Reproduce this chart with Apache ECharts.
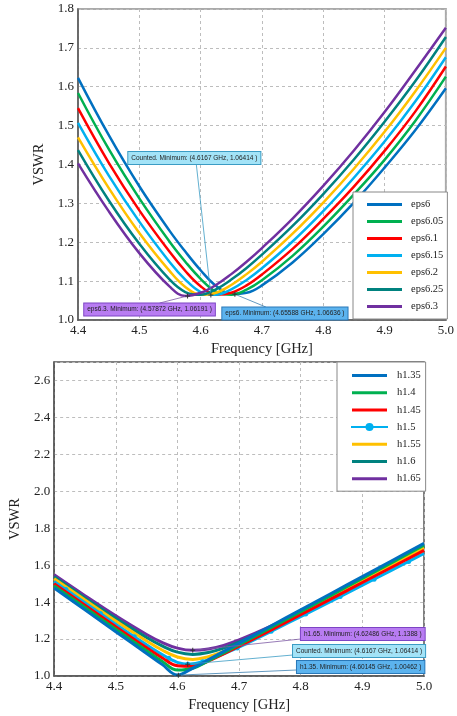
<!DOCTYPE html>
<html>
<head>
<meta charset="utf-8">
<title>VSWR</title>
<script src="https://cdn.jsdelivr.net/npm/echarts@6/dist/echarts.min.js"></script>
<style>
    html, body {margin: 0; padding: 0; background: #fff;}
    #main {width: 457px; height: 716px;}
</style>
</head>
<body>
<div id="main"></div>
<script>
// 上图：eps 扫描
let topFreq = [4.40, 4.45, 4.50, 4.55, 4.575, 4.60, 4.625, 4.65, 4.675, 4.70, 4.75, 4.80, 4.85, 4.90, 4.95, 5.00];
let topNames = ['eps6', 'eps6.05', 'eps6.1', 'eps6.15', 'eps6.2', 'eps6.25', 'eps6.3'];
let eps6 = [1.623, 1.476, 1.344, 1.228, 1.176, 1.128, 1.088, 1.067, 1.070, 1.089, 1.148, 1.221, 1.302, 1.392, 1.488, 1.596];
let eps605 = [1.584, 1.440, 1.313, 1.200, 1.150, 1.106, 1.073, 1.065, 1.078, 1.102, 1.165, 1.240, 1.323, 1.412, 1.512, 1.626];
let eps61 = [1.545, 1.405, 1.282, 1.174, 1.126, 1.087, 1.065, 1.070, 1.089, 1.117, 1.183, 1.260, 1.343, 1.435, 1.536, 1.652];
let eps615 = [1.507, 1.372, 1.253, 1.148, 1.104, 1.072, 1.065, 1.079, 1.103, 1.133, 1.202, 1.280, 1.366, 1.459, 1.562, 1.676];
let eps62 = [1.470, 1.340, 1.224, 1.125, 1.085, 1.065, 1.070, 1.090, 1.118, 1.150, 1.222, 1.302, 1.389, 1.484, 1.588, 1.700];
let eps625 = [1.437, 1.308, 1.196, 1.103, 1.072, 1.065, 1.079, 1.104, 1.134, 1.168, 1.242, 1.324, 1.413, 1.510, 1.614, 1.728];
let eps63 = [1.403, 1.280, 1.172, 1.085, 1.062, 1.070, 1.090, 1.118, 1.150, 1.185, 1.261, 1.345, 1.436, 1.535, 1.642, 1.752];

// 下图：h 扫描
let botFreq = [4.40, 4.45, 4.50, 4.55, 4.575, 4.60, 4.625, 4.65, 4.675, 4.70, 4.75, 4.80, 4.85, 4.90, 4.95, 5.00];
let botNames = ['h1.35', 'h1.4', 'h1.45', 'h1.5', 'h1.55', 'h1.6', 'h1.65'];
let h135 = [1.476, 1.358, 1.240, 1.122, 1.063, 1.006, 1.043, 1.088, 1.133, 1.178, 1.268, 1.358, 1.448, 1.538, 1.628, 1.718];
let h14 = [1.488, 1.371, 1.253, 1.137, 1.080, 1.032, 1.042, 1.082, 1.125, 1.170, 1.259, 1.348, 1.438, 1.528, 1.618, 1.708];
let h145 = [1.500, 1.383, 1.267, 1.153, 1.099, 1.055, 1.052, 1.081, 1.120, 1.161, 1.246, 1.332, 1.419, 1.506, 1.593, 1.680];
let h155 = [1.527, 1.412, 1.298, 1.190, 1.141, 1.103, 1.090, 1.104, 1.133, 1.170, 1.251, 1.338, 1.426, 1.515, 1.605, 1.695];
let h16 = [1.537, 1.423, 1.312, 1.208, 1.163, 1.129, 1.117, 1.127, 1.151, 1.183, 1.260, 1.345, 1.432, 1.521, 1.610, 1.700];
let h165 = [1.548, 1.435, 1.326, 1.225, 1.182, 1.151, 1.139, 1.146, 1.166, 1.195, 1.267, 1.348, 1.433, 1.521, 1.609, 1.698];
// h1.5 带圆点标记，单独的频点
let h15Freq = [4.40, 4.419, 4.475, 4.530, 4.586, 4.6167, 4.641, 4.697, 4.752, 4.808, 4.864, 4.919, 4.975, 5.00];
let h15 = [1.512, 1.468, 1.338, 1.213, 1.096, 1.064, 1.077, 1.152, 1.242, 1.335, 1.430, 1.524, 1.620, 1.663];

// 最小值标注
let topMinText = ['Counted. Minimum: (4.6167 GHz, 1.06414 )', 'eps6.3. Minimum: (4.57872 GHz, 1.06191 )', 'eps6. Minimum: (4.65588 GHz, 1.06636 )'];
let topMinFreq = [4.6167, 4.57872, 4.65588];
let topMinVswr = [1.06414, 1.06191, 1.06636];
let botMinText = ['h1.65. Minimum: (4.62486 GHz, 1.1388 )', 'Counted. Minimum: (4.6167 GHz, 1.06414 )', 'h1.35. Minimum: (4.60145 GHz, 1.00462 )'];
let botMinFreq = [4.62486, 4.6167, 4.60145];
let botMinVswr = [1.1388, 1.06414, 1.00462];

let COLORS = ['#0070C0', '#00B050', '#FF0000', '#00B0F0', '#FFC000', '#00827F', '#7030A0'];
let SERIF = 'Liberation Serif';
let PLUS = 'path://M4,0H6V4H10V6H6V10H4V6H0V4H4Z';
let LINE_ICON = 'path://M0,0M0,3.5H35V6.5H0ZM35,10'; //图例里的细线
let NOTE_STYLE = {
    cyan: {bg: '#a3e3f7', border: '#3b9cc4', line: '#3b9cc4'},
    purple: {bg: '#b87cf2', border: '#7d44c4', line: '#7d5aa5'},
    blue: {bg: '#5cb3ee', border: '#2a78b8', line: '#3b7fb0'}
};

let myChart = echarts.init(document.getElementById('main'));

function xAxis(idx) {
    return {
        type: 'value', gridIndex: idx, min: 4.4, max: 5.0, interval: 0.1,
        name: 'Frequency [GHz]', nameLocation: 'middle', nameGap: 22,
        nameTextStyle: {fontFamily: SERIF, fontSize: 14.5, color: '#222'},
        axisLine: {onZero: false, lineStyle: {color: '#555', width: 1.5}},
        axisTick: {show: false},
        axisLabel: {margin: 4, fontFamily: SERIF, fontSize: 13, color: '#222',
            formatter: function (v) { return v.toFixed(1); }},
        splitLine: {lineStyle: {type: [3, 3], color: '#bdbdbd'}}
    };
}

function yAxis(idx, min, max, step, gap) {
    return {
        type: 'value', gridIndex: idx, min: min, max: max, interval: step,
        name: 'VSWR', nameLocation: 'middle', nameGap: gap,
        nameTextStyle: {fontFamily: SERIF, fontSize: 14.5, color: '#222'},
        axisLine: {show: true, onZero: false, lineStyle: {color: '#555', width: 1.5}},
        axisTick: {show: false},
        axisLabel: {margin: 4, fontFamily: SERIF, fontSize: 13, color: '#222', showMaxLabel: idx === 0,
            formatter: function (v) { return v.toFixed(1); }},
        splitLine: {lineStyle: {type: [3, 3], color: '#bdbdbd'}}
    };
}

function note(idx, f, v, at, pos, off, text, st) {
    return {
        name: 'note', type: 'line', xAxisIndex: idx, yAxisIndex: idx, silent: true, z: 20,
        symbol: 'circle', symbolSize: 1, showSymbol: true,
        itemStyle: {color: 'rgba(0,0,0,0)'},
        lineStyle: {width: 0.8, color: st.line},
        data: [
            {value: [f, v], symbol: PLUS, symbolSize: 5, itemStyle: {color: '#333'}},
            {value: at, label: {
                show: true, position: pos, distance: 0, offset: off, formatter: text,
                backgroundColor: st.bg, borderColor: st.border, borderWidth: 1,
                padding: [2, 3, 2, 3], fontFamily: 'Liberation Sans', fontSize: 6.5, lineHeight: 8, color: '#222'
            }}
        ]
    };
}

let series = [];
let topVswr = [eps6, eps605, eps61, eps615, eps62, eps625, eps63];
topNames.forEach(function (n, i) {
    series.push({
        name: n, type: 'line', xAxisIndex: 0, yAxisIndex: 0, smooth: 0.4, symbol: 'none',
        lineStyle: {width: 2.5, color: COLORS[i]}, itemStyle: {color: COLORS[i]},
        data: topFreq.map(function (f, j) { return [f, topVswr[i][j]]; })
    });
});

let botVswr = [h135, h14, h145, null, h155, h16, h165];
botNames.forEach(function (n, i) {
    let s = {
        name: n, type: 'line', xAxisIndex: 1, yAxisIndex: 1, smooth: 0.4, symbol: 'none',
        z: 10 - i,
        lineStyle: {width: 3, color: COLORS[i]}, itemStyle: {color: COLORS[i]}
    };
    if (n === 'h1.5') {
        s.symbol = 'circle';
        s.symbolSize = 5;
        s.showSymbol = true;
        s.data = h15Freq.map(function (f, j) {
            let d = {value: [f, h15[j]]};
            if (j === 0 || j === h15Freq.length - 1) d.symbol = 'none';
            return d;
        });
    } else {
        s.data = botFreq.map(function (f, j) { return [f, botVswr[i][j]]; });
    }
    series.push(s);
});

// 标注框（锚点为数据坐标）
series.push(note(0, topMinFreq[0], topMinVswr[0], [4.593, 1.400], 'top', [-2, 0], topMinText[0], NOTE_STYLE.cyan));
series.push(note(0, topMinFreq[1], topMinVswr[1], [4.533, 1.0436], 'bottom', [-10, 0], topMinText[1], NOTE_STYLE.purple));
series.push(note(0, topMinFreq[2], topMinVswr[2], [4.7065, 1.0333], 'bottom', [19, 0], topMinText[2], NOTE_STYLE.blue));
series.push(note(1, botMinFreq[0], botMinVswr[0], [4.7995, 1.200], 'right', [0, -5], botMinText[0], NOTE_STYLE.purple));
series.push(note(1, botMinFreq[1], botMinVswr[1], [4.7867, 1.1135], 'right', [0, -4], botMinText[1], NOTE_STYLE.cyan));
series.push(note(1, botMinFreq[2], botMinVswr[2], [4.7931, 1.0324], 'right', [0, -3], botMinText[2], NOTE_STYLE.blue));

let legendBase = {
    orient: 'vertical', backgroundColor: '#fff', borderColor: '#888', borderWidth: 1,
    itemHeight: 10,
    textStyle: {fontFamily: SERIF, fontSize: 10.5, color: '#222', padding: [0, 0, 0, 4]}
};

function legendItems(names) {
    return names.map(function (n) {
        return n === 'h1.5' ? {name: n} : {name: n, icon: LINE_ICON};
    });
}

let option = {
    animation: false,
    backgroundColor: '#fff',
    grid: [
        {left: 78, top: 9, width: 370, height: 311, show: true, borderColor: '#aaa', borderWidth: 2},
        {left: 50, top: 362, width: 374, height: 314, show: true, borderColor: '#555', borderWidth: 1.5}
    ],
    xAxis: [xAxis(0), xAxis(1)],
    yAxis: [yAxis(0, 1.0, 1.8, 0.1, 24), yAxis(1, 1.0, 2.7, 0.2, 25)],
    legend: [
        Object.assign({}, legendBase, {data: legendItems(topNames), left: 353, top: 192, itemWidth: 35, itemGap: 6, padding: [7, 4, 7, 14]}),
        Object.assign({}, legendBase, {data: legendItems(botNames), left: 337, top: 362, itemWidth: 37, itemGap: 6.2, padding: [8, 5, 7, 13]})
    ],
    series: series
};

if (option && typeof option === "object") {
    myChart.setOption(option, true);
}
</script>
</body>
</html>
